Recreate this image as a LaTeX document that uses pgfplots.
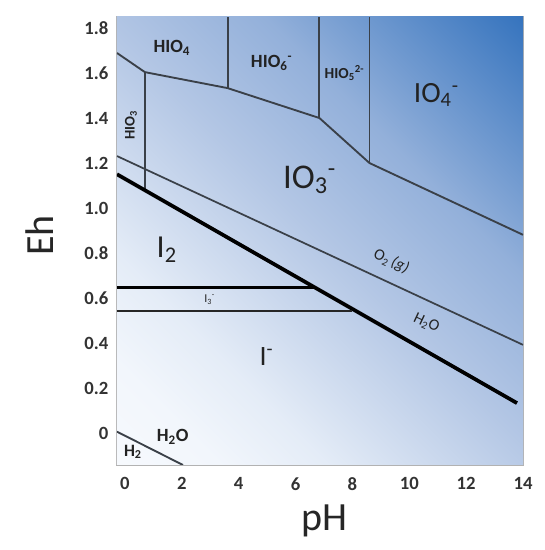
\documentclass[border=0pt]{standalone}
\usepackage{pgfplots}
\pgfplotsset{compat=1.18}
\usepackage{fontspec}
\setmainfont{Carlito}
\definecolor{ln}{HTML}{3A4048}
\definecolor{txt}{HTML}{222222}
\definecolor{bgA}{HTML}{F6F9FD}
\definecolor{bgB}{HTML}{F2F6FC}
\definecolor{bgC}{HTML}{E4ECF7}
\definecolor{bgD}{HTML}{B4C7E5}
\definecolor{bgE}{HTML}{93B0DA}
\definecolor{bgF}{HTML}{3674BE}
% diagonal background, white at lower left to blue at upper right
\pgfdeclarehorizontalshading{diagbg}{100bp}{
  color(0bp)=(bgA); color(14.6bp)=(bgA); color(23bp)=(bgB);
  color(32bp)=(bgC); color(50bp)=(bgD); color(64bp)=(bgE);
  color(85.4bp)=(bgF); color(100bp)=(bgF)}
\begin{document}
\begin{tikzpicture}
\path[use as bounding box] (-87.75pt,-63.75pt) rectangle (320.25pt,348.75pt);
\begin{axis}[
    at={(0,0)}, anchor=south west,
    scale only axis,
    width=304.5pt, height=336pt,
    xmin=-0.28, xmax=14,
    ymin=-0.142, ymax=1.849,
    axis line style={draw=gray!60, line width=0.8pt},
    xtick={0,2,...,14},
    ytick={0,0.2,0.4,0.6,0.8,1.0,1.2,1.4,1.6,1.8},
    yticklabels={0,0.2,0.4,0.6,0.8,1.0,1.2,1.4,1.6,1.8},
    major tick length=0pt,
    tick label style={font=\fontsize{14}{16}\selectfont\bfseries, text=black!80},
    /pgf/number format/assume math mode=true,
    xticklabel style={yshift=-6pt},
    yticklabel style={xshift=-3pt},
    xlabel={pH}, ylabel={Eh},
    label style={font=\fontsize{30}{33}\selectfont, text=black!85},
    xlabel style={at={(axis description cs:0.512,0)}, anchor=center, yshift=-42pt},
    ylabel style={at={(axis description cs:0,0.512)}, anchor=center, yshift=58pt},
    clip=true,
]
\shade[shading=diagbg, shading angle=45]
  (rel axis cs:0,0) rectangle (rel axis cs:1,1);

% IO3- upper boundary
\addplot[ln, line width=1.4pt] coordinates {(-0.28,1.689) (0.70,1.604) (3.61,1.533) (6.84,1.40) (8.60,1.20) (14,0.881)};
% verticals
\addplot[ln, line width=1.4pt] coordinates {(3.61,1.533) (3.61,1.849)};
\addplot[ln, line width=1.4pt] coordinates {(6.84,1.40) (6.84,1.849)};
\addplot[ln, line width=1.4pt] coordinates {(8.60,1.20) (8.60,1.849)};
\addplot[ln, line width=1.4pt] coordinates {(0.70,1.604) (0.70,1.08)};
% O2 / H2O line
\addplot[ln, line width=1.3pt] coordinates {(-0.28,1.231) (14,0.392)};
% thick diagonal
\addplot[black, line width=2.8pt] coordinates {(-0.28,1.150) (13.79,0.133)};
% thick horizontal
\addplot[black, line width=2.6pt] coordinates {(-0.28,0.648) (6.67,0.648)};
% thin horizontal
\addplot[black!85, line width=1.5pt] coordinates {(-0.28,0.544) (8.0,0.544)};
% H2 line
\addplot[ln, line width=1.4pt] coordinates {(-0.28,0.006) (2.04,-0.142)};

\begin{scope}[text=txt]
\node[font=\fontsize{14}{16}\selectfont\bfseries] at (axis cs:1.65,1.711) {HIO\textsubscript{4}};
\node[font=\fontsize{14}{16}\selectfont\bfseries] at (axis cs:5.16,1.644) {HIO\textsubscript{6}\textsuperscript{-}};
\node[font=\fontsize{11.5}{13}\selectfont\bfseries] at (axis cs:7.72,1.600) {HIO\textsubscript{5}\textsuperscript{2-}};
\node[font=\fontsize{22}{24}\selectfont] at (axis cs:10.95,1.502) {IO\textsubscript{4}\textsuperscript{-}};
\node[font=\fontsize{11}{13}\selectfont\bfseries, rotate=90] at (axis cs:0.21,1.369) {HIO\textsubscript{3}};
\node[font=\fontsize{26}{29}\selectfont] at (axis cs:6.49,1.124) {IO\textsubscript{3}\textsuperscript{-}};
\node[font=\fontsize{12}{14}\selectfont, rotate=-25] at (axis cs:9.37,0.762) {O\textsubscript{2}\,\textit{(g)}};
\node[font=\fontsize{12}{14}\selectfont, rotate=-25] at (axis cs:10.6,0.489) {H\textsubscript{2}O};
\node[font=\fontsize{24}{27}\selectfont] at (axis cs:1.47,0.813) {I\textsubscript{2}};
\node[font=\fontsize{9}{10}\selectfont] at (axis cs:2.98,0.593) {I\textsubscript{3}\textsuperscript{-}};
\node[font=\fontsize{21}{24}\selectfont] at (axis cs:4.98,0.338) {I\textsuperscript{-}};
\node[font=\fontsize{14}{16}\selectfont\bfseries] at (axis cs:1.68,-0.018) {H\textsubscript{2}O};
\node[font=\fontsize{13}{15}\selectfont\bfseries] at (axis cs:0.28,-0.084) {H\textsubscript{2}};
\end{scope}
\end{axis}
\end{tikzpicture}
\end{document}
